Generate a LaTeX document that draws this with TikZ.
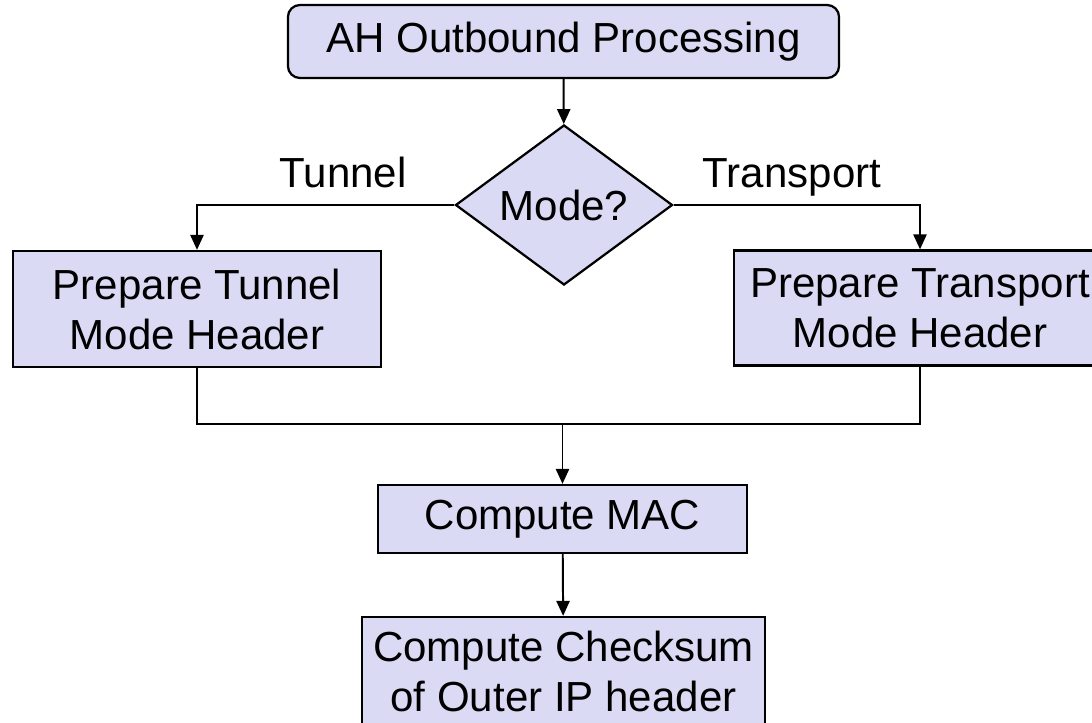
\documentclass[tikz,border=0pt]{standalone}
\usepackage{fontspec}
\setmainfont{Liberation Sans}
\usepackage{tikz}
\usetikzlibrary{arrows.meta,shapes.geometric}
\definecolor{boxfill}{RGB}{218,218,244}

\begin{document}
\begin{tikzpicture}[x=0.025cm,y=-0.025cm,
	every node/.style={font=\fontsize{29.9}{35.6}\selectfont},
	stepbox/.style={draw=black,line width=1.6pt,fill=boxfill,align=center,inner sep=0pt},
	wire/.style={line width=1.4pt},
	flow/.style={wire,-{Triangle[length=0.375cm,width=0.33cm]}}]
	\clip (0,0) rectangle (1092,723);

		% boxes
		\node[stepbox,rounded corners=0.3cm,minimum width=13.775cm,minimum height=1.825cm] at (563.5,41.5) (start) {AH Outbound Processing};
		\node[stepbox,shape=diamond,aspect=1.36,minimum width=5.425cm,minimum height=4.0cm] at (564,205) (mode) {Mode?};

		\node[stepbox,minimum width=9.2cm,minimum height=2.9cm] at (197,309) (tunnel) {Prepare Tunnel\\Mode Header};
		\node[stepbox,minimum width=9.3cm,minimum height=2.875cm] at (920,308) (transport) {Prepare Transport\\Mode Header};

		\node[stepbox,minimum width=9.225cm,minimum height=1.7cm] at (562.5,519) (mac) {Compute MAC};
		\node[stepbox,minimum width=10.075cm,minimum height=2.7cm] at (563.5,671) (checksum) {Compute Checksum\\of Outer IP header};

		% labels
		\node[anchor=base] at (343,187) (lbltunnel) {Tunnel};
		\node[anchor=base] at (792,187) (lbltransport) {Transport};

		% connectors
		\coordinate (join) at (562.5,424);
		\draw[flow] (start) -- (mode);
		\draw[flow] (mode.west) -| (tunnel.north);
		\draw[flow] (mode.east) -| (transport.north);
		\draw[wire] (tunnel.south) |- (join);
		\draw[wire] (transport.south) |- (join);
		\draw[flow] (join) -- (mac);
		\draw[flow] (mac) -- (checksum);
		%\draw[black,very thick] (0,0) rectangle (1092,723);
\end{tikzpicture}
\end{document}
